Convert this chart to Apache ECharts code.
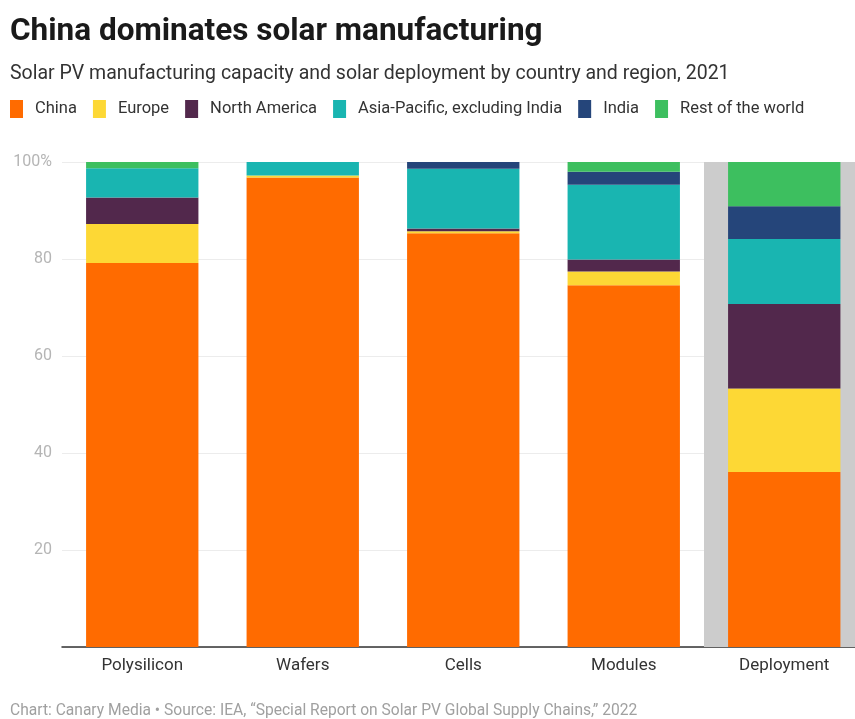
<!DOCTYPE html>
<html>
<head>
<meta charset="utf-8">
<script src="https://cdn.jsdelivr.net/npm/echarts@6/dist/echarts.min.js"></script>
<style>
  html, body { margin: 0; padding: 0; background: #ffffff; }
  #chart { width: 855px; height: 719px; }
</style>
</head>
<body>
<div id="chart"></div>
<script>
// Supply-chain stages along the x axis
const categories = ['Polysilicon', 'Wafers', 'Cells', 'Modules', 'Deployment'];

// Share of 2021 capacity / deployment by region (%)
const china        = [79.2, 96.8, 85.3, 74.6, 36.1];
const europe       = [8.0, 0.4, 0.4, 2.8, 17.2];
const northAmerica = [5.5, 0, 0.6, 2.5, 17.4];
const asiaPacific  = [6.0, 2.8, 12.3, 15.4, 13.4];
const india        = [0, 0, 1.4, 2.7, 6.8];
const restOfWorld  = [1.3, 0, 0, 2.0, 9.1];

// Shaded band behind the deployment column
const highlight = [null, null, null, null, 100];

const seriesDefs = [
  { name: 'China', data: china, color: '#ff6b00' },
  { name: 'Europe', data: europe, color: '#fdd835' },
  { name: 'North America', data: northAmerica, color: '#52284c' },
  { name: 'Asia-Pacific, excluding India', data: asiaPacific, color: '#19b5b1' },
  { name: 'India', data: india, color: '#25457a' },
  { name: 'Rest of the world', data: restOfWorld, color: '#3dbf5f' }
];

const chart = echarts.init(document.getElementById('chart'), null, { renderer: 'canvas' });

const font = 'Roboto, "Noto Sans", sans-serif';

const option = {
  backgroundColor: '#ffffff',
  textStyle: { fontFamily: font },
  animation: false,
  title: [
    {
      text: 'China dominates solar manufacturing',
      left: 10, top: 16, padding: 0,
      textStyle: { fontFamily: font, fontSize: 31.5, fontWeight: 'bold', color: '#1a1a1a' }
    },
    {
      text: 'Solar PV manufacturing capacity and solar deployment by country and region, 2021',
      left: 10, top: 64, padding: 0,
      textStyle: { fontFamily: font, fontSize: 19.5, fontWeight: 'normal', color: '#333333' }
    },
    {
      text: 'Chart: Canary Media \u2022 Source: IEA, \u201cSpecial Report on Solar PV Global Supply Chains,\u201d 2022',
      left: 10, top: 703, padding: 0,
      textStyle: { fontFamily: font, fontSize: 15.6, fontWeight: 'normal', color: '#a0a0a0' }
    }
  ],
  legend: {
    left: 10, top: 100, padding: 0,
    icon: 'rect',
    itemWidth: 13, itemHeight: 18, itemGap: 16,
    textStyle: { fontFamily: font, fontSize: 16.5, color: '#333333', padding: [0, 0, 0, 7] },
    data: seriesDefs.map(s => s.name)
  },
  grid: { left: 62, width: 802.5, top: 162, bottom: 72, containLabel: false, outerBoundsMode: 'none' },
  xAxis: [
    {
      type: 'category',
      data: categories,
      axisTick: { show: false },
      axisLine: { lineStyle: { color: '#333333', width: 1.5 } },
      axisLabel: { fontFamily: font, fontSize: 17, color: '#333333', margin: 10 }
    },
    {
      type: 'category',
      data: categories,
      show: false
    }
  ],
  yAxis: {
    type: 'value',
    min: 0, max: 100, interval: 20,
    axisLine: { show: false },
    axisTick: { show: false },
    splitLine: { lineStyle: { color: '#ececec', width: 1 } },
    axisLabel: {
      fontFamily: font, fontSize: 16, color: '#b5b5b5', margin: 10,
      formatter: v => (v === 100 ? '100%' : (v === 0 ? '' : String(v)))
    }
  },
  series: [
    {
      name: 'highlight',
      type: 'bar',
      xAxisIndex: 1,
      data: highlight,
      barWidth: '100%',
      itemStyle: { color: '#cccccc' },
      silent: true,
      z: 1
    }
  ].concat(seriesDefs.map(s => ({
    name: s.name,
    type: 'bar',
    stack: 'share',
    data: s.data,
    barWidth: '70%',
    itemStyle: { color: s.color },
    z: 3
  })))
};

chart.setOption(option);
</script>
</body>
</html>
